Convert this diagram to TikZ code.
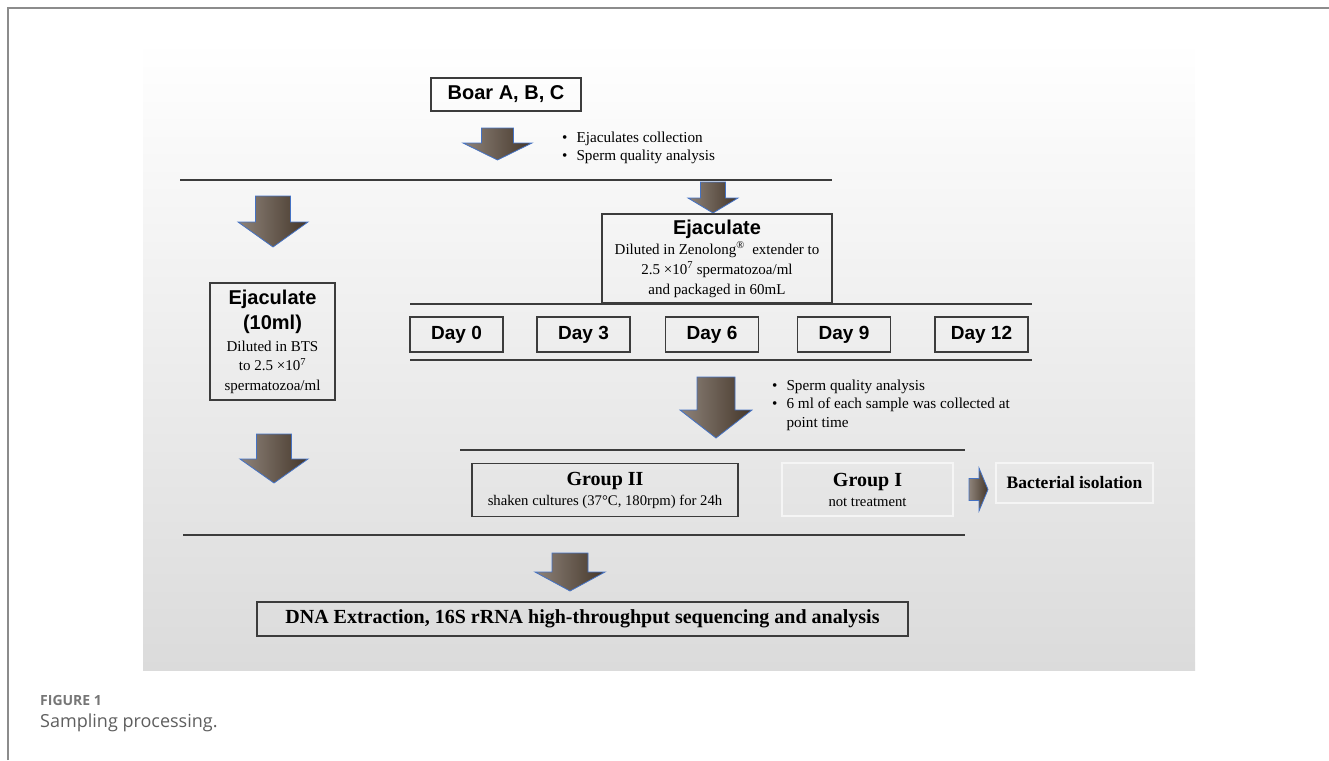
\documentclass[tikz,border=0pt]{standalone}
\usepackage{fontspec}
\setmainfont{Liberation Serif}
\setsansfont{Liberation Sans}
\newfontfamily\capfont{Open Sans}
\usetikzlibrary{positioning,calc}
\definecolor{rulegray}{HTML}{3C3C3C}
\definecolor{arrlight}{HTML}{8E837A}
\definecolor{arrdark}{HTML}{443629}
\definecolor{arredge}{HTML}{4472C4}
\definecolor{framegray}{HTML}{8C8C8C}
\definecolor{panelbot}{HTML}{DBDBDB}
\definecolor{capgray}{HTML}{5E5E5E}
\tikzset{
  blockFill/.style={draw=arredge, line width=0.8pt, left color=arrlight, right color=arrdark},
  pics/downBlk/.style n args={4}{code={
    \path[blockFill] (-#2/2,0) -- (#2/2,0) -- (#2/2,#3-#4) -- (#1/2,#3-#4) -- (0,#3)
      -- (-#1/2,#3-#4) -- (-#2/2,#3-#4) -- cycle;}},
  pics/rightBlk/.style n args={4}{code={
    \path[blockFill] (0,-#2/2) -- (#3-#4,-#2/2) -- (#3-#4,-#1/2) -- (#3,0)
      -- (#3-#4,#1/2) -- (#3-#4,#2/2) -- (0,#2/2) -- cycle;}},
}

\begin{document}
\begin{tikzpicture}[x=1pt, y=-1pt,
  box/.style={draw=rulegray, line width=1.1pt, inner sep=0pt, align=center},
  paleBox/.style={draw=white!92!gray, line width=1.1pt, inner sep=0pt, align=center},
  dayBox/.style={box, minimum width=93pt, minimum height=35pt,
      font=\sffamily\bfseries\fontsize{19}{22}\selectfont},
  sepLine/.style={draw=rulegray, line width=1.1pt},
  notes/.style={anchor=west, align=left, inner sep=0pt, font=\fontsize{15.2}{18.5}\selectfont},
]
\useasboundingbox (0,0) rectangle (1329,760);
% panel and frame
\fill[top color=white, bottom color=panelbot] (143,40) rectangle (1195,670);
\draw[framegray, line width=2pt] (8,760) -- (8,8) -- (1329,8);

% top of the chart
\node[box, minimum width=150pt, minimum height=33pt,
      font=\sffamily\bfseries\fontsize{20}{22}\selectfont] (boar) at (506,94.5) {Boar A, B, C};
\pic (arrBoar) at (497.5,128) {downBlk={69}{32}{32}{17}};
\node[notes] (collect) at (562,148)
   {\begin{tabular}{@{}l@{\hspace{9pt}}l@{}}\textbullet & Ejaculates collection\\ \textbullet & Sperm quality analysis\end{tabular}};
\draw[sepLine] (180,180) -- (832,180);

% left branch (BTS)
\pic (arrBtsA) at (273,196) {downBlk={70}{35}{51}{25}};
\node[box, minimum width=125pt, minimum height=117pt, font=\fontsize{15}{19.5}\selectfont] (ejBts) at (272.5,341.5)
   {\sffamily\bfseries\fontsize{20}{25}\selectfont Ejaculate\\[6pt]
    \sffamily\bfseries\fontsize{20}{25}\selectfont (10ml)\\[2pt]
    Diluted in BTS\\ to 2.5 \texttimes10\textsuperscript{7}\\ spermatozoa/ml};
\pic (arrBtsB) at (274,434) {downBlk={68}{35}{49}{24}};

% right branch (Zenolong)
\pic (arrZen) at (713,182) {downBlk={50}{25}{31}{15}};
\node[box, minimum width=230pt, minimum height=89pt, font=\fontsize{15}{20}\selectfont] (ejZen) at (717,258.5)
   {\sffamily\bfseries\fontsize{20}{22}\selectfont Ejaculate\\
    Diluted in Zenolong\textsuperscript{\textregistered}\ \ extender to\\
    2.5 \texttimes10\textsuperscript{7} spermatozoa/ml\\ and packaged in 60mL};
\draw[sepLine] (410,304) -- (1032,304);
\node[dayBox] (day0) at (456.5,334.5) {Day 0};
\node[dayBox] (day3) at (583.5,334.5) {Day 3};
\node[dayBox] (day6) at (712,334.5) {Day 6};
\node[dayBox] (day9) at (844,334.5) {Day 9};
\node[dayBox] (day12) at (981.5,334.5) {Day 12};
\draw[sepLine] (410,360) -- (1032,360);

\pic (arrDays) at (716,377) {downBlk={72}{38}{61}{28}};
\node[notes] (sampling) at (772,405)
   {\begin{tabular}{@{}l@{\hspace{9pt}}l@{}}\textbullet & Sperm quality analysis\\
    \textbullet & 6 ml of each sample was collected at\\ & point time\end{tabular}};
\draw[sepLine] (460,450) -- (965,450);

% groups
\node[box, minimum width=266pt, minimum height=53pt, font=\fontsize{14.7}{20}\selectfont] (grpTwo) at (605,490)
   {\bfseries\fontsize{20}{21}\selectfont Group II\\ shaken cultures (37°C, 180rpm) for 24h};
\node[paleBox, minimum width=171pt, minimum height=53pt, font=\fontsize{14.7}{20}\selectfont] (grpOne) at (867.5,489.5)
   {\bfseries\fontsize{20}{21}\selectfont Group I\\ not treatment};
\pic (arrIso) at (969,489.5) {rightBlk={43}{22}{19}{9}};
\node[paleBox, minimum width=157pt, minimum height=40pt,
      font=\bfseries\fontsize{17.5}{20}\selectfont] (isolate) at (1074.5,483) {Bacterial isolation};
\draw[sepLine] (183,535) -- (965,535);

% sequencing
\pic (arrSeq) at (570,553) {downBlk={70}{36}{38}{19}};
\node[box, minimum width=651pt, minimum height=34pt,
      font=\bfseries\fontsize{20}{22}\selectfont] (seq) at (582.5,619)
   {DNA Extraction, 16S rRNA high-throughput sequencing and analysis};

% caption
\node[anchor=west, inner sep=0pt, text=capgray!85, font=\capfont\bfseries\fontsize{14}{16}\selectfont] (figNo) at (40,700) {FIGURE 1};
\node[anchor=west, inner sep=0pt, text=capgray, font=\capfont\fontsize{18}{21}\selectfont] (figCap) at (40,723) {Sampling processing.};
\end{tikzpicture}
\end{document}
